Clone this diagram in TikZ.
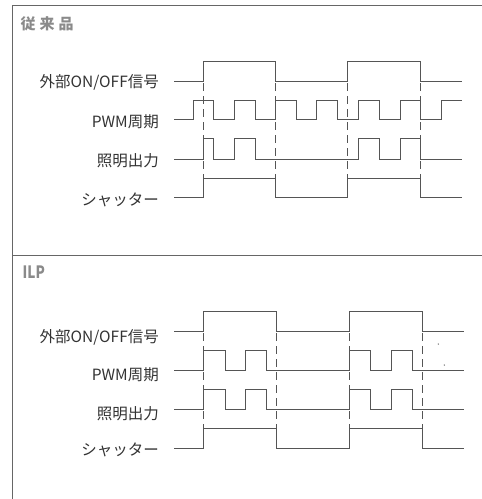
\documentclass[tikz,border=0pt]{standalone}
\usepackage{fontspec}
\newfontfamily\jp{Noto Sans CJK JP}
\newfontfamily\jpc[FakeStretch=0.8]{Noto Sans CJK JP}
\definecolor{txt}{HTML}{333333}
\definecolor{wave}{HTML}{555555}
\definecolor{ttl}{HTML}{8A8A8A}
\definecolor{frm}{HTML}{666666}
\begin{document}
\begin{tikzpicture}[x=1pt,y=-1pt,
  lbl/.style={anchor=east,inner sep=0pt,text=txt,font=\jp\fontsize{15.5}{17}\selectfont},
  ttlbox/.style={anchor=west,inner sep=0pt,text=ttl},
  wv/.style={draw=wave,line width=0.9pt},
  dsh/.style={draw=wave,line width=0.9pt,dash pattern=on 8pt off 5pt},
  frame/.style={draw=frm,line width=1pt}]
\useasboundingbox (0,0) rectangle (482,499);
% frame
\draw[frame] (12.7,499) -- (12.7,5.5) -- (482,5.5);
\draw[frame] (12.7,255) -- (482,255);
% titles
\node[ttlbox,font=\jp\bfseries\fontsize{15}{17}\selectfont] (t1) at (20.5,23.7) {従\kern4pt 来\kern4pt 品};
\node[ttlbox,font=\jpc\bfseries\fontsize{17}{19}\selectfont] (t2) at (22.5,271.7) {ILP};
% ===== top section labels
\node[lbl] (a1) at (159,82) {外部ON/OFF信号};
\node[lbl] (a2) at (159,121.7) {PWM周期};
\node[lbl] (a3) at (159,161) {照明出力};
\node[lbl] (a4) at (159,200) {シャッター};
% top waves
\draw[wv] (174,81) -| (203.3,61.7) -| (275.3,81) -| (347.7,61.7) -| (420,81) -- (462,81);
\draw[wv] (174,119.3) -| (193.3,100) -| (213.3,119.3) -| (234.3,100) -| (255,119.3) -| (275.5,100) -| (296.7,119.3) -| (316.7,100) -| (337.7,119.3) -| (358.3,100) -| (379,119.3) -| (400,100) -| (420,119.3) -| (441.7,100) -- (462,100);
\draw[wv] (174,159.3) -| (203.3,138.3) -| (213.3,159.3) -| (234.3,138.3) -| (255,159.3) -| (358.3,138.3) -| (379,159.3) -| (400,138.3) -| (420,159.3) -- (462,159.3);
\draw[wv] (174,197.7) -| (203.3,178.3) -| (275.3,197.7) -| (347.7,178.3) -| (420,197.7) -- (462,197.7);
\foreach \xx in {203.3,275.3,347.7,420}
  \draw[dsh] (\xx,83) -- (\xx,178.3);
% ===== bottom section labels
\node[lbl] (b1) at (159,337.3) {外部ON/OFF信号};
\node[lbl] (b2) at (159,375) {PWM周期};
\node[lbl] (b3) at (159,413.3) {照明出力};
\node[lbl] (b4) at (159,450) {シャッター};
% bottom waves
\draw[wv] (174,331) -| (203.3,311) -| (276,331) -| (349.3,311) -| (422.7,331) -- (464,331);
\draw[wv] (174,370.7) -| (203.3,350) -| (225.3,370.7) -| (245,350) -| (266,370.7) -| (349.3,350) -| (370.7,370.7) -| (391.7,350) -| (412.7,370.7) -- (464,370.7);
\draw[wv] (174,409.3) -| (203.3,389.3) -| (225.3,409.3) -| (245,389.3) -| (266,409.3) -| (349.3,389.3) -| (370.7,409.3) -| (391.7,389.3) -| (412.7,409.3) -- (464,409.3);
\draw[wv] (174,448.3) -| (203.3,428.3) -| (276,448.3) -| (349.3,428.3) -| (422.7,448.3) -- (464,448.3);
\foreach \xx in {203.3,276,349.3,422.7}
  \draw[dsh] (\xx,333) -- (\xx,428.3);
% stray marks
\fill[wave] (438.3,344) circle (0.7);
\fill[wave] (444.3,365) circle (0.7);
\end{tikzpicture}
\end{document}
